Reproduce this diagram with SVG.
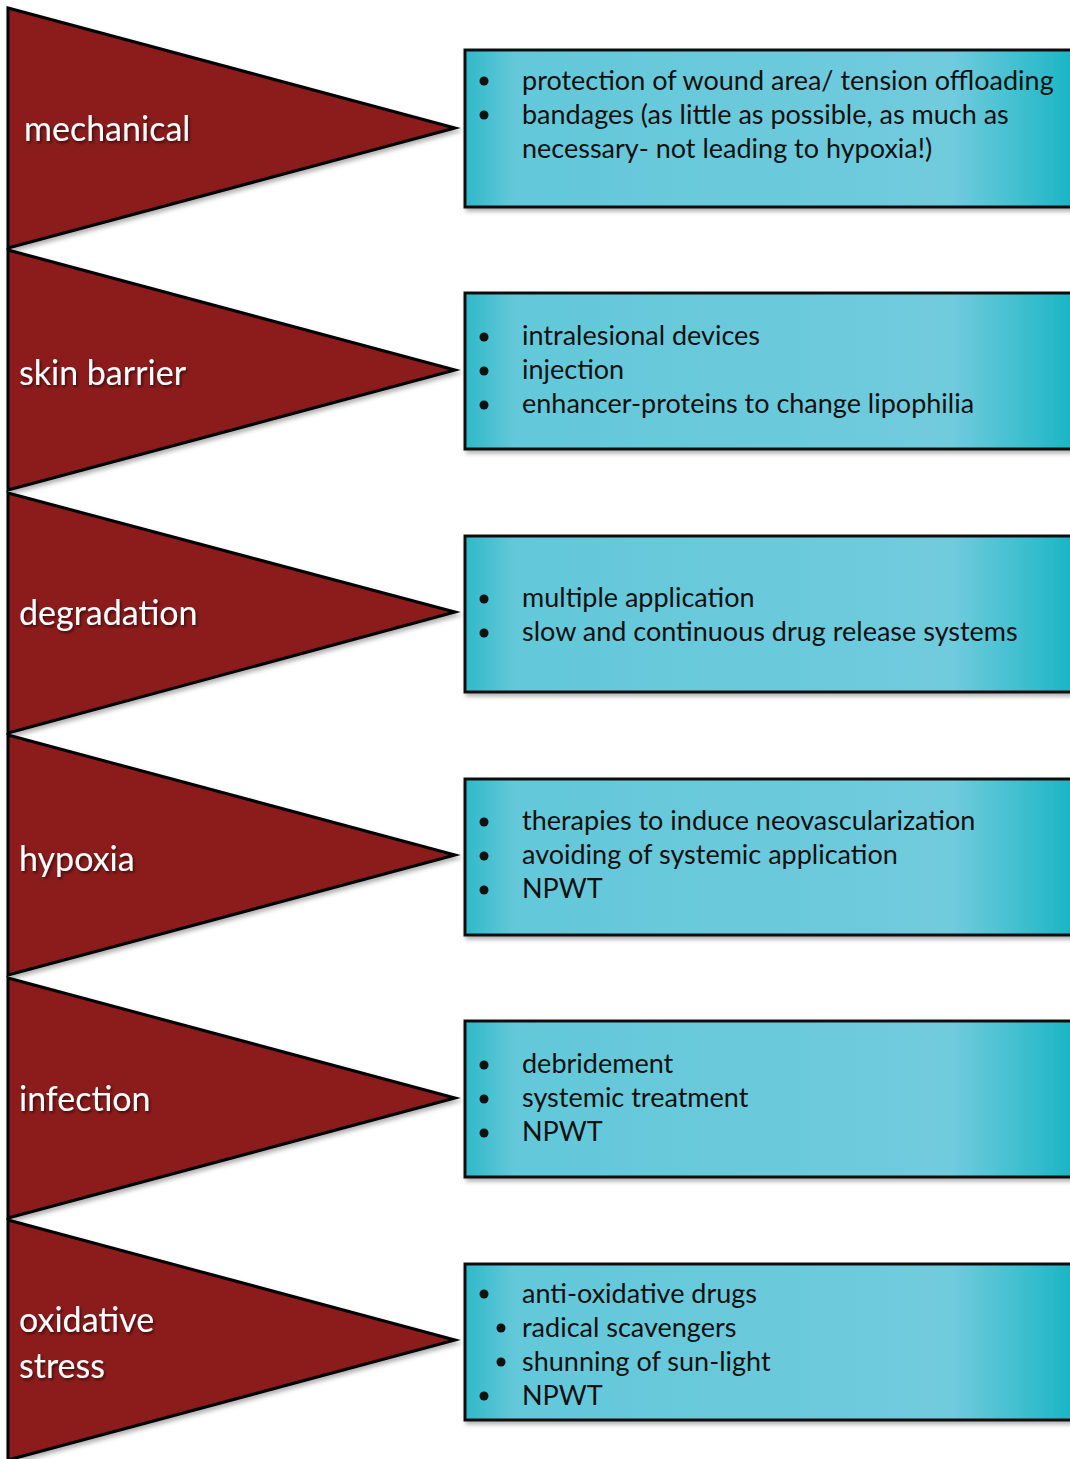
<svg xmlns="http://www.w3.org/2000/svg" width="1070" height="1459" viewBox="0 0 1070 1459">
<style>
.tri{fill:#8c1a1d;stroke:#000;stroke-width:3;stroke-linejoin:miter}
.box{fill:url(#cyan);stroke:#111;stroke-width:3}
.lbl{font-family:Lato,"Open Sans",sans-serif;font-size:34px;fill:#fff;filter:url(#ts)}
.txt{font-family:Lato,"Open Sans",sans-serif;font-size:27px;fill:#111}
.bul{fill:#111}
</style>
<defs>
<linearGradient id="cyan" x1="0" y1="0" x2="1" y2="0">
<stop offset="0" stop-color="#2fb9c9"/>
<stop offset="0.08" stop-color="#63c8d9"/>
<stop offset="0.8" stop-color="#70cbdd"/>
<stop offset="1" stop-color="#19b5c5"/>
</linearGradient>
<filter id="ts" x="-10%" y="-20%" width="130%" height="160%">
<feDropShadow dx="1.5" dy="2" stdDeviation="1.5" flood-color="#000" flood-opacity="0.6"/>
</filter>
<filter id="sh" x="-5%" y="-5%" width="115%" height="115%">
<feDropShadow dx="2" dy="3" stdDeviation="2" flood-color="#000" flood-opacity="0.3"/>
</filter>
</defs>
<g id="connectors"/>
<g id="n1">
<polygon class="tri" filter="url(#sh)" points="8,8 455,128 8,248"/>
<text class="lbl" x="24" y="141">mechanical</text>
</g>
<g id="n2">
<polygon class="tri" filter="url(#sh)" points="8,250 455,370 8,490"/>
<text class="lbl" x="19" y="385">skin barrier</text>
</g>
<g id="n3">
<polygon class="tri" filter="url(#sh)" points="8,493 455,612 8,733"/>
<text class="lbl" x="19" y="625">degradation</text>
</g>
<g id="n4">
<polygon class="tri" filter="url(#sh)" points="8,735 455,855 8,975"/>
<text class="lbl" x="19" y="871">hypoxia</text>
</g>
<g id="n5">
<polygon class="tri" filter="url(#sh)" points="8,978 455,1098 8,1218"/>
<text class="lbl" x="19" y="1111">infection</text>
</g>
<g id="n6">
<polygon class="tri" filter="url(#sh)" points="8,1220 455,1340 8,1460"/>
<text class="lbl" x="19" y="1332">oxidative</text>
<text class="lbl" x="19" y="1378">stress</text>
</g>
<g id="b1">
<rect class="box" filter="url(#sh)" x="465" y="50" width="610" height="157"/>
<circle class="bul" cx="484" cy="81" r="4.5"/><circle class="bul" cx="484" cy="115" r="4.5"/>
<text class="txt" x="522" y="90">protection of wound area/ tension offloading</text>
<text class="txt" x="522" y="124">bandages (as little as possible, as much as</text>
<text class="txt" x="522" y="158">necessary- not leading to hypoxia!)</text>
</g>
<g id="b2">
<rect class="box" filter="url(#sh)" x="465" y="293" width="610" height="156"/>
<circle class="bul" cx="484" cy="337" r="4.5"/><circle class="bul" cx="484" cy="371" r="4.5"/><circle class="bul" cx="484" cy="405" r="4.5"/>
<text class="txt" x="522" y="345">intralesional devices</text>
<text class="txt" x="522" y="379">injection</text>
<text class="txt" x="522" y="413">enhancer-proteins to change lipophilia</text>
</g>
<g id="b3">
<rect class="box" filter="url(#sh)" x="465" y="536" width="610" height="156"/>
<circle class="bul" cx="484" cy="599" r="4.5"/><circle class="bul" cx="484" cy="633" r="4.5"/>
<text class="txt" x="522" y="607">multiple application</text>
<text class="txt" x="522" y="641">slow and continuous drug release systems</text>
</g>
<g id="b4">
<rect class="box" filter="url(#sh)" x="465" y="779" width="610" height="156"/>
<circle class="bul" cx="484" cy="822" r="4.5"/><circle class="bul" cx="484" cy="856" r="4.5"/><circle class="bul" cx="484" cy="890" r="4.5"/>
<text class="txt" x="522" y="830">therapies to induce neovascularization</text>
<text class="txt" x="522" y="864">avoiding of systemic application</text>
<text class="txt" x="522" y="898">NPWT</text>
</g>
<g id="b5">
<rect class="box" filter="url(#sh)" x="465" y="1021" width="610" height="156"/>
<circle class="bul" cx="484" cy="1065" r="4.5"/><circle class="bul" cx="484" cy="1099" r="4.5"/><circle class="bul" cx="484" cy="1133" r="4.5"/>
<text class="txt" x="522" y="1073">debridement</text>
<text class="txt" x="522" y="1107">systemic treatment</text>
<text class="txt" x="522" y="1141">NPWT</text>
</g>
<g id="b6">
<rect class="box" filter="url(#sh)" x="465" y="1264" width="610" height="156"/>
<circle class="bul" cx="484" cy="1294" r="4.5"/><circle class="bul" cx="501" cy="1328" r="4.5"/><circle class="bul" cx="501" cy="1362" r="4.5"/><circle class="bul" cx="484" cy="1396" r="4.5"/>
<text class="txt" x="522" y="1303">anti-oxidative drugs</text>
<text class="txt" x="522" y="1337">radical scavengers</text>
<text class="txt" x="522" y="1371">shunning of sun-light</text>
<text class="txt" x="522" y="1405">NPWT</text>
</g>
</svg>
